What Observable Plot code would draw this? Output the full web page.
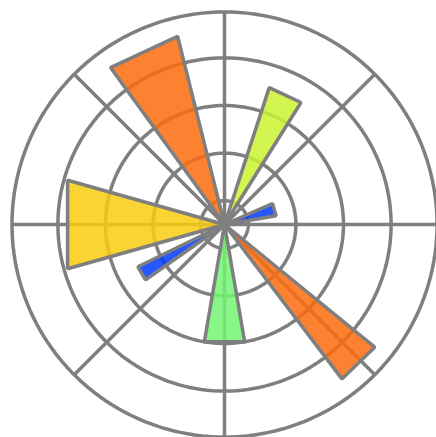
<!DOCTYPE html>
<html>
<head>
<meta charset="utf-8">
<script src="https://cdn.jsdelivr.net/npm/d3@7"></script>
<script src="https://cdn.jsdelivr.net/npm/@observablehq/plot@0.6"></script>
<style>
  html, body { margin: 0; padding: 0; background: #fff; }
  #chart svg { display: block; }
</style>
</head>
<body>
<div id="chart"></div>
<script>
// Bar data (angles in degrees, counter-clockwise from east; radii in data units)
const barIds = ["a", "b", "c", "d", "e", "f", "g"];
const barCenters = [16.6, 64.9, 115.0, 180.0, 210.5, 270.0, 314.0];
const barWidths = [14.0, 14.0, 22.0, 31.5, 9.0, 19.5, 13.5];
const barRadii = [2.2, 6.05, 8.15, 6.85, 4.05, 5, 8.15];
const barColors = ["#0039ff", "#caf331", "#fb6c0e", "#f8cc0f", "#0039ff", "#73f673", "#fb6c0e"];

// Grid
const ringTicks = [1, 3, 5, 7];
const rMax = 8.93;
const spokeAngles = [0, 45, 90, 135, 180, 225, 270, 315];

const W = 436, H = 437;
const unit = 23.8;      // pixels per radial unit
const cx = 224, cy = 224;

const rad = (d) => d * Math.PI / 180;

// Polygons for the bars: apex at center, two outer corners
const barPoints = barIds.flatMap((id, i) => {
  const a0 = rad(barCenters[i] - barWidths[i] / 2);
  const a1 = rad(barCenters[i] + barWidths[i] / 2);
  const r = barRadii[i];
  return [
    {id, color: barColors[i], x: 0, y: 0},
    {id, color: barColors[i], x: r * Math.cos(a0), y: r * Math.sin(a0)},
    {id, color: barColors[i], x: r * Math.cos(a1), y: r * Math.sin(a1)}
  ];
});

// Grid ring outlines
const ringValues = [...ringTicks, rMax];
const ringPoints = ringValues.flatMap((r) =>
  d3.range(0, 360, 2).map((t) => ({r, x: r * Math.cos(rad(t)), y: r * Math.sin(rad(t))}))
);

const spokes = spokeAngles.map((t) => ({
  x1: 0, y1: 0, x2: rMax * Math.cos(rad(t)), y2: rMax * Math.sin(rad(t))
}));

const gray = "#7f7f7f";

const chart = Plot.plot({
  width: W,
  height: H,
  margin: 0,
  x: {domain: [-cx / unit, (W - cx) / unit], axis: null},
  y: {domain: [(cy - H) / unit, cy / unit], axis: null},
  color: {type: "identity"},
  marks: [
    Plot.line(ringPoints, {x: "x", y: "y", z: "r", curve: "linear-closed", stroke: gray, strokeWidth: 3.5}),
    Plot.link(spokes, {x1: "x1", y1: "y1", x2: "x2", y2: "y2", stroke: gray, strokeWidth: 3.5}),
    Plot.line(barPoints, {
      x: "x", y: "y", z: "id",
      curve: "linear-closed",
      fill: "color",
      fillOpacity: 0.85,
      stroke: gray,
      strokeWidth: 3.5,
      strokeLinejoin: "miter"
    })
  ]
});

document.getElementById("chart").appendChild(chart);
</script>
</body>
</html>
